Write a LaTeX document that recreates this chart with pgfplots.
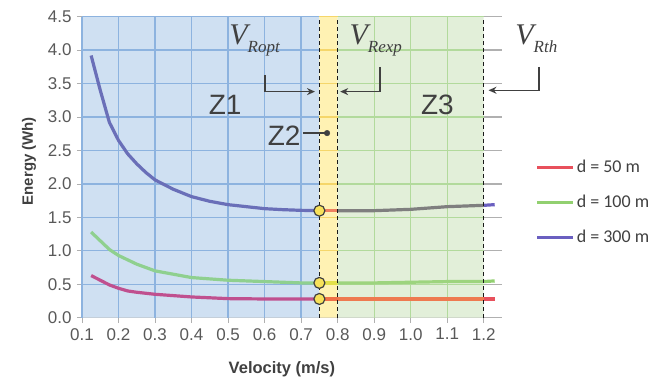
\documentclass[border=0pt]{standalone}
\usepackage{pgfplots}
\pgfplotsset{compat=1.18}
\usepackage{fontspec}
\setmainfont{Liberation Sans}
\newfontfamily\serifit{Liberation Serif}
\newfontfamily\legfont{Carlito}
\usetikzlibrary{arrows.meta}
\definecolor{blueBG}{HTML}{CFE0F2}
\definecolor{yellowBG}{HTML}{FFF2B3}
\definecolor{greenBG}{HTML}{E2EFD9}
\definecolor{gridB}{HTML}{8DB3DF}
\definecolor{gridY}{HTML}{F5D66A}
\definecolor{gridG}{HTML}{B2DA9C}
\definecolor{gridK}{HTML}{B0B0B0}
\definecolor{tickgray}{HTML}{595959}
\definecolor{txt}{HTML}{404040}
\definecolor{aZa}{HTML}{C0508F}
\definecolor{aZb}{HTML}{F07048}
\definecolor{aZc}{HTML}{EE7A50}
\definecolor{aOut}{HTML}{E8505C}
\definecolor{bZa}{HTML}{8FD08F}
\definecolor{bZb}{HTML}{E2E04A}
\definecolor{bZc}{HTML}{9DD47E}
\definecolor{bOut}{HTML}{92D070}
\definecolor{cZa}{HTML}{6A6FB8}
\definecolor{cZb}{HTML}{EE8060}
\definecolor{cZc}{HTML}{7F7F7F}
\definecolor{cOut}{HTML}{6A5FC0}
\definecolor{circ}{HTML}{F7E15A}
\begin{document}
\begin{tikzpicture}
\useasboundingbox (-82pt,-67.3pt) rectangle (575pt,317.7pt);
\begin{axis}[
  scale only axis, width=420pt, height=301pt,
  xmin=0.1, xmax=1.25, ymin=0, ymax=4.5,
  axis x line*=bottom, axis y line*=left,
  x axis line style={gridK, line width=1pt, -},
  y axis line style={draw=none},
  xtick={0.1,0.2,...,1.2}, ytick={0,0.5,...,4.5},
  tick align=outside, major tick length=5pt,
  tick style={gridK, line width=0.8pt},
  /pgf/number format/assume math mode=true,
  /pgf/number format/.cd, fixed, fixed zerofill, precision=1, /pgfplots/.cd,
  ticklabel style={font=\fontsize{17}{19}\selectfont, text=tickgray},
  xticklabel style={yshift=-2pt},
  yticklabel style={xshift=-2pt},
  xlabel={Velocity (m/s)}, ylabel={Energy (Wh)},
  xlabel style={at={(axis description cs:0.476,-0.172)}, anchor=center, font=\fontsize{16.5}{18}\selectfont\bfseries, text=txt},
  ylabel style={at={(axis description cs:-0.126,0.52)}, anchor=center, rotate=0, font=\fontsize{15}{17}\selectfont\bfseries, text=txt},
  clip=false,
  legend style={at={(1.080,0.53)}, anchor=north west, draw=none, fill=none, inner sep=0pt,
    font=\legfont\fontsize{18}{20}\selectfont, text=txt, row sep=17pt,
    /tikz/every even column/.append style={column sep=0pt}},
  legend cell align=left,
  legend image code/.code={\draw[#1, line width=3pt] (0pt,0pt) -- (36pt,0pt);},
]
% region fills
\addplot[draw=none, fill=blueBG, forget plot] coordinates {(0.1,0) (0.75,0) (0.75,4.5) (0.1,4.5)} \closedcycle;
\addplot[draw=none, fill=yellowBG, forget plot] coordinates {(0.75,0) (0.8,0) (0.8,4.5) (0.75,4.5)} \closedcycle;
\addplot[draw=none, fill=greenBG, forget plot] coordinates {(0.8,0) (1.2,0) (1.2,4.5) (0.8,4.5)} \closedcycle;
% grid lines
\pgfplotsinvokeforeach{0.5,1.0,1.5,2.0,2.5,3.0,3.5,4.0,4.5}{
  \addplot[gridB, line width=1.3pt, forget plot] coordinates {(0.1,#1) (0.75,#1)};
  \addplot[gridY, line width=1.3pt, forget plot] coordinates {(0.75,#1) (0.8,#1)};
  \addplot[gridG, line width=1.3pt, forget plot] coordinates {(0.8,#1) (1.2,#1)};
  \addplot[gridK, line width=1.3pt, forget plot] coordinates {(1.2,#1) (1.25,#1)};
}
\pgfplotsinvokeforeach{0.1,0.2,0.3,0.4,0.5,0.6,0.7}{
  \addplot[gridB, line width=1.3pt, forget plot] coordinates {(#1,0) (#1,4.5)};
}
\pgfplotsinvokeforeach{0.9,1.0,1.1}{
  \addplot[gridG, line width=1.3pt, forget plot] coordinates {(#1,0) (#1,4.5)};
}
% d = 50 m
\addplot[aZa, line width=3.2pt, forget plot] coordinates {(0.125,0.63) (0.15,0.56) (0.175,0.49) (0.2,0.44) (0.225,0.40) (0.25,0.38) (0.3,0.35) (0.35,0.33) (0.4,0.31) (0.5,0.285) (0.6,0.28) (0.75,0.28)};
\addplot[aZb, line width=3.2pt, forget plot] coordinates {(0.75,0.28) (0.8,0.28)};
\addplot[aZc, line width=3.2pt, forget plot] coordinates {(0.8,0.28) (1.0,0.28) (1.2,0.28)};
\addplot[aOut, line width=3.2pt, forget plot] coordinates {(1.2,0.28) (1.23,0.28)};
% d = 100 m
\addplot[bZa, line width=3.2pt, forget plot] coordinates {(0.125,1.28) (0.15,1.15) (0.175,1.02) (0.2,0.93) (0.25,0.80) (0.3,0.70) (0.35,0.65) (0.4,0.60) (0.5,0.56) (0.6,0.54) (0.7,0.52) (0.75,0.52)};
\addplot[bZb, line width=3.2pt, forget plot] coordinates {(0.75,0.52) (0.8,0.52)};
\addplot[bZc, line width=3.2pt, forget plot] coordinates {(0.8,0.52) (0.9,0.52) (1.0,0.53) (1.1,0.54) (1.2,0.54)};
\addplot[bOut, line width=3.2pt, forget plot] coordinates {(1.2,0.54) (1.23,0.55)};
% d = 300 m
\addplot[cZa, line width=3.2pt, forget plot] coordinates {(0.125,3.92) (0.15,3.40) (0.175,2.92) (0.2,2.65) (0.225,2.45) (0.25,2.30) (0.275,2.17) (0.3,2.06) (0.35,1.92) (0.4,1.81) (0.45,1.74) (0.5,1.69) (0.55,1.66) (0.6,1.63) (0.65,1.615) (0.7,1.605) (0.75,1.60)};
\addplot[cZb, line width=3.2pt, forget plot] coordinates {(0.75,1.60) (0.8,1.60)};
\addplot[cZc, line width=3.2pt, forget plot] coordinates {(0.8,1.60) (0.9,1.60) (1.0,1.62) (1.1,1.66) (1.2,1.68)};
\addplot[cOut, line width=3.2pt, forget plot] coordinates {(1.2,1.68) (1.23,1.69)};
% optimum points
\addplot[only marks, mark=*, mark size=5.5pt, mark options={fill=circ, draw=txt, line width=1.2pt}, forget plot] coordinates {(0.75,1.60) (0.75,0.52) (0.75,0.28)};
% dashed boundaries
\pgfplotsinvokeforeach{0.75,0.8,1.2}{
  \addplot[black!90, line width=1.4pt, dash pattern=on 4pt off 3pt, forget plot] coordinates {(#1,0) (#1,4.5)};
}
% Z2 pointer dot
\addplot[only marks, mark=*, mark size=2.8pt, mark options={fill=txt, draw=txt}, forget plot] coordinates {(0.771,2.76)};
\draw[txt, line width=1.4pt] (axis cs:0.705,2.76) -- (axis cs:0.771,2.76);
% annotations
\node[inner sep=0pt, font=\serifit\itshape\fontsize{30}{32}\selectfont, text=txt, anchor=base west] at (axis cs:0.503,4.08) {V\raisebox{-7.5pt}{\fontsize{17}{19}\selectfont Ropt}};
\node[inner sep=0pt, font=\serifit\itshape\fontsize{30}{32}\selectfont, text=txt, anchor=base west] at (axis cs:0.832,4.08) {V\raisebox{-7.5pt}{\fontsize{17}{19}\selectfont Rexp}};
\node[inner sep=0pt, font=\serifit\itshape\fontsize{30}{32}\selectfont, text=txt, anchor=base west] at (axis cs:1.286,4.08) {V\raisebox{-7.5pt}{\fontsize{17}{19}\selectfont Rth}};
\draw[txt, line width=1.4pt, -{Stealth[length=8pt, width=7pt]}] (axis cs:0.601,3.63) -- (axis cs:0.601,3.38) -- (axis cs:0.738,3.38);
\draw[txt, line width=1.4pt, -{Stealth[length=8pt, width=7pt]}] (axis cs:0.916,3.75) -- (axis cs:0.916,3.38) -- (axis cs:0.807,3.38);
\draw[txt, line width=1.4pt, -{Stealth[length=8pt, width=7pt]}] (axis cs:1.351,3.75) -- (axis cs:1.351,3.40) -- (axis cs:1.213,3.40);
\node[font=\fontsize{28}{30}\selectfont, text=txt] at (axis cs:0.492,3.18) {Z1};
\node[font=\fontsize{28}{30}\selectfont, text=txt, anchor=east] at (axis cs:0.708,2.72) {Z2};
\node[font=\fontsize{28}{30}\selectfont, text=txt] at (axis cs:1.073,3.18) {Z3};
% legend
\addlegendimage{aOut}\addlegendentry{d = 50 m}
\addlegendimage{bOut}\addlegendentry{d = 100 m}
\addlegendimage{cOut}\addlegendentry{d = 300 m}
\end{axis}
\end{tikzpicture}
\end{document}
